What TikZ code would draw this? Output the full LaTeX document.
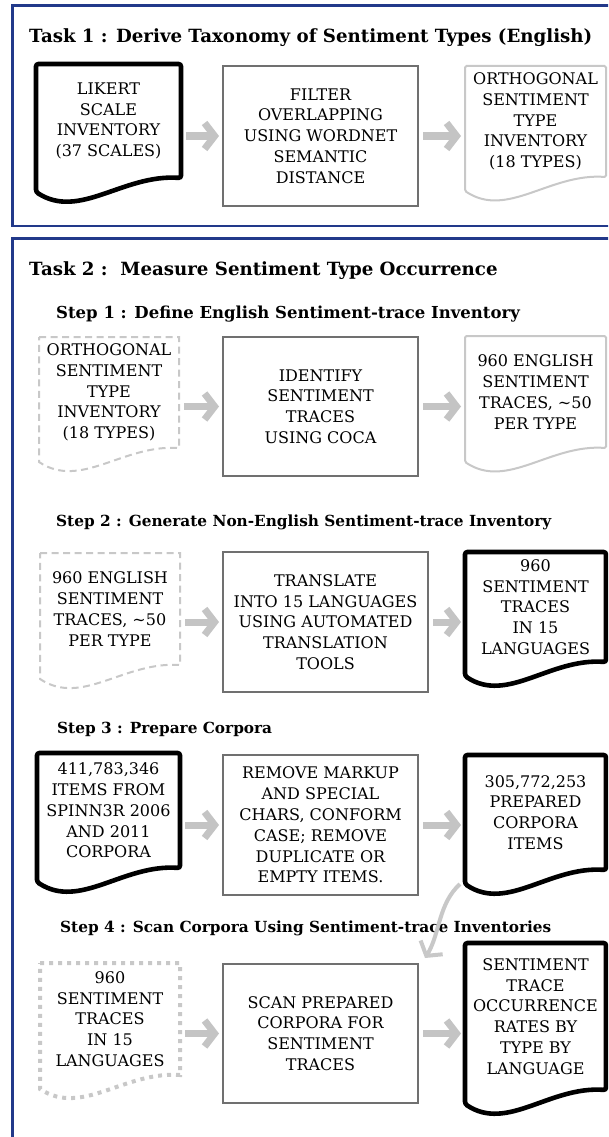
\documentclass[tikz,border=0pt]{standalone}
\usepackage{fontspec}
\setmainfont{DejaVu Serif}
\usetikzlibrary{arrows.meta,calc}

\definecolor{panelblue}{RGB}{34,57,138}
\definecolor{boxgray}{RGB}{112,112,112}
\definecolor{palegray}{RGB}{200,200,200}
\definecolor{arrowgray}{RGB}{196,196,196}

% outline of a "document" shape: straight top and sides, wavy bottom
\newcommand\docoutline[2]{%
  \draw[#2] let \p1=(#1.north west), \p2=(#1.south east), \n1={\x2-\x1} in
    (\x1,\y1) -- (\x2,\y1) -- (\x2,\y2)
    .. controls (\x1+0.6*\n1,\y2+4pt) and (\x1+0.3*\n1,\y2-42pt) ..
    (\x1,\y2-14pt) -- cycle;}

\tikzset{
  panel/.style={draw=panelblue, line width=2.6pt},
  tasktitle/.style={font=\fontsize{18.2}{22}\selectfont\bfseries, inner sep=0pt, anchor=base west},
  steptitle/.style={font=\fontsize{15.3}{18}\selectfont\bfseries, inner sep=0pt, anchor=base west},
  boxtext/.style={align=center, font=\fontsize{16}{20.8}\selectfont, inner sep=0pt, outer sep=0pt},
  docnode/.style={boxtext},
  procbox/.style={boxtext, draw=boxgray, line width=2.4pt},
  docthick/.style={draw=black, line width=4.6pt, rounded corners=2.5pt},
  doclight/.style={draw=palegray, line width=2pt, rounded corners=1.5pt},
  docdashed/.style={draw=palegray, line width=2pt, dash pattern=on 7pt off 4.5pt},
  docdotted/.style={draw=palegray, line width=4pt, dash pattern=on 4pt off 5pt},
  flowarrow/.style={draw=arrowgray, line width=7pt, shorten <=5pt, shorten >=4pt,
    -{Straight Barb[length=10pt, width=26pt, line width=7pt]}},
  curvearrow/.style={draw=palegray, line width=4pt,
    -{Straight Barb[length=10pt, width=26pt, line width=4pt]}},
}

\begin{document}
\begin{tikzpicture}[x=1pt, y=-1pt]
\useasboundingbox (0,0) rectangle (608,1137);
\clip (0,0) rectangle (608,1137);
\fill[white] (0,0) rectangle (608,1137);

% frames of the two tasks
\draw[panel] (12.5,5.5) rectangle (640,226);
\draw[panel] (12.5,238.5) rectangle (640,1170);

% ---------------- Task 1
\node[tasktitle] (task1) at (29,43) {Task 1 : Derive Taxonomy of Sentiment Types (English)};

\node[docnode, minimum width=145pt, minimum height=114pt] (t1a) at (108.5,121)
  {LIKERT\\SCALE\\INVENTORY\\(37 SCALES)};
\node[procbox, minimum width=195pt, minimum height=140pt] (t1b) at (320.5,136)
  {FILTER\\OVERLAPPING\\USING WORDNET\\SEMANTIC\\DISTANCE};
\node[docnode, minimum width=141pt, minimum height=111pt] (t1c) at (535.5,121.5)
  {ORTHOGONAL\\SENTIMENT\\TYPE\\INVENTORY\\(18 TYPES)};
\docoutline{t1a}{docthick}
\docoutline{t1c}{doclight}
\draw[flowarrow] (t1b.west -| t1a.east) -- (t1b.west);
\draw[flowarrow] (t1b.east) -- (t1b.east -| t1c.west);

% ---------------- Task 2
\node[tasktitle] (task2) at (29,275) {Task 2 :\ \ Measure Sentiment Type Occurrence};

% Step 1
\node[steptitle, font=\fontsize{16.5}{20}\selectfont\bfseries] (step1) at (56,318)
  {Step 1 : Define English Sentiment-trace Inventory};
\node[docnode, minimum width=140pt, minimum height=111pt] (s1a) at (109,392.5)
  {ORTHOGONAL\\SENTIMENT\\TYPE\\INVENTORY\\(18 TYPES)};
\node[procbox, minimum width=195pt, minimum height=139pt] (s1b) at (320.5,406.5)
  {IDENTIFY\\SENTIMENT\\TRACES\\USING COCA};
\node[docnode, minimum width=141pt, minimum height=112pt] (s1c) at (535.5,392)
  {960 ENGLISH\\SENTIMENT\\TRACES, \textasciitilde50\\PER TYPE};
\docoutline{s1a}{docdashed}
\docoutline{s1c}{doclight}
\draw[flowarrow] (s1b.west -| s1a.east) -- (s1b.west);
\draw[flowarrow] (s1b.east) -- (s1b.east -| s1c.west);

% Step 2
\node[steptitle] (step2) at (56,526)
  {Step 2 : Generate Non-English Sentiment-trace Inventory};
\node[docnode, minimum width=140pt, minimum height=112pt] (s2a) at (110,609)
  {960 ENGLISH\\SENTIMENT\\TRACES, \textasciitilde50\\PER TYPE};
\node[procbox, minimum width=205pt, minimum height=140pt] (s2b) at (325.5,622)
  {TRANSLATE\\INTO 15 LANGUAGES\\USING AUTOMATED\\TRANSLATION\\TOOLS};
\node[docnode, minimum width=141pt, minimum height=110pt] (s2c) at (535.5,607)
  {960\\SENTIMENT\\TRACES\\IN 15\\LANGUAGES};
\docoutline{s2a}{docdashed}
\docoutline{s2c}{docthick}
\draw[flowarrow] (s2b.west -| s2a.east) -- (s2b.west);
\draw[flowarrow] (s2b.east) -- (s2b.east -| s2c.west);

% Step 3
\node[steptitle] (step3) at (57,733) {Step 3 : Prepare Corpora};
\node[docnode, minimum width=143pt, minimum height=115pt] (s3a) at (108.5,810.5)
  {411,783,346\\ITEMS FROM\\SPINN3R 2006\\AND 2011\\CORPORA};
\node[procbox, minimum width=195pt, minimum height=140pt] (s3b) at (320.5,825)
  {REMOVE MARKUP\\AND SPECIAL\\CHARS, CONFORM\\CASE; REMOVE\\DUPLICATE OR\\EMPTY ITEMS.};
\node[docnode, minimum width=141pt, minimum height=115pt] (s3c) at (535.5,812.5)
  {305,772,253\\PREPARED\\CORPORA\\ITEMS};
\docoutline{s3a}{docthick}
\docoutline{s3c}{docthick}
\draw[flowarrow] (s3b.west -| s3a.east) -- (s3b.west);
\draw[flowarrow] (s3b.east) -- (s3b.east -| s3c.west);

% Step 4
\node[steptitle] (step4) at (60,932)
  {Step 4 : Scan Corpora Using Sentiment-trace Inventories};
\node[docnode, minimum width=140pt, minimum height=112pt] (s4a) at (110,1019)
  {960\\SENTIMENT\\TRACES\\IN 15\\LANGUAGES};
\node[procbox, minimum width=195pt, minimum height=139pt] (s4b) at (320.5,1033.5)
  {SCAN PREPARED\\CORPORA FOR\\SENTIMENT\\TRACES};
\node[docnode, minimum width=141pt, minimum height=147pt] (s4c) at (535.5,1016.5)
  {SENTIMENT\\TRACE\\OCCURRENCE\\RATES BY\\TYPE BY\\LANGUAGE};
\docoutline{s4a}{docdotted}
\docoutline{s4c}{docthick}
\draw[flowarrow] (s4b.west -| s4a.east) -- (s4b.west);
\draw[flowarrow] (s4b.east) -- (s4b.east -| s4c.west);

% prepared corpora feed the scan
\draw[curvearrow] ([shift={(-5,14)}]s3c.south west)
  .. controls +(-22,20) and +(15,-24) .. ([shift={(7,-6)}]s4b.north east);
\end{tikzpicture}
\end{document}
